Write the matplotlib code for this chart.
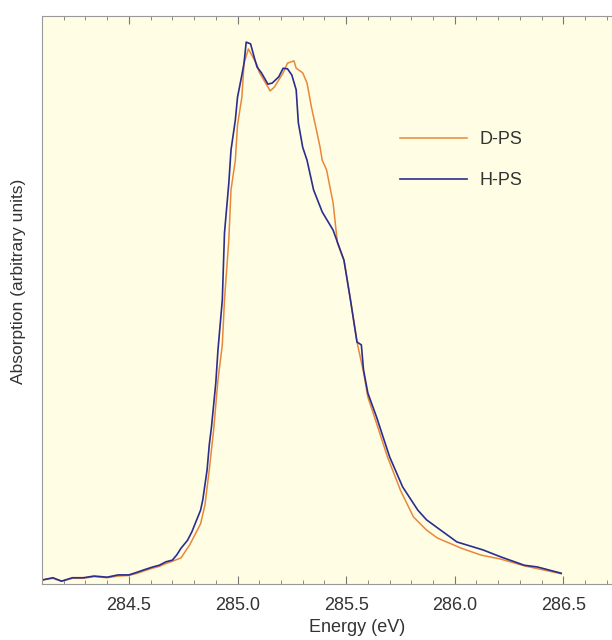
import numpy as np
import matplotlib
matplotlib.use("Agg")
import matplotlib.pyplot as plt
from matplotlib.ticker import MultipleLocator, FixedLocator

plt.rcParams['font.family'] = ['Liberation Sans', 'DejaVu Sans']

# H-PS spectrum (energy in eV, absorption in arbitrary units)
h_energy = [284.10, 284.15, 284.19, 284.24, 284.29, 284.34, 284.40, 284.45, 284.50, 284.54,
            284.57, 284.61, 284.64, 284.67, 284.70, 284.72, 284.74, 284.77, 284.79, 284.81,
            284.83, 284.84, 284.86, 284.87, 284.88, 284.90, 284.91, 284.93, 284.94, 284.96,
            284.97, 284.99, 285.00, 285.02, 285.03, 285.04, 285.06, 285.08, 285.09, 285.11,
            285.14, 285.16, 285.19, 285.21, 285.23, 285.25, 285.27, 285.28, 285.30, 285.32,
            285.35, 285.39, 285.44, 285.49, 285.52, 285.55, 285.57, 285.58, 285.60, 285.64,
            285.70, 285.76, 285.83, 285.87, 285.92, 286.01, 286.07, 286.13, 286.21, 286.32,
            286.38, 286.49]
h_abs = [0.007, 0.011, 0.005, 0.011, 0.011, 0.014, 0.012, 0.016, 0.016, 0.021,
         0.025, 0.030, 0.033, 0.039, 0.042, 0.051, 0.063, 0.077, 0.092, 0.111,
         0.130, 0.148, 0.201, 0.245, 0.276, 0.354, 0.412, 0.500, 0.618, 0.706,
         0.764, 0.817, 0.857, 0.896, 0.917, 0.954, 0.951, 0.923, 0.910, 0.900,
         0.880, 0.882, 0.893, 0.908, 0.907, 0.896, 0.870, 0.812, 0.769, 0.746,
         0.694, 0.655, 0.623, 0.570, 0.500, 0.426, 0.421, 0.377, 0.336, 0.294,
         0.224, 0.171, 0.130, 0.113, 0.099, 0.074, 0.067, 0.060, 0.048, 0.033,
         0.030, 0.019]

# D-PS spectrum
d_energy = [284.10, 284.15, 284.19, 284.24, 284.29, 284.34, 284.40, 284.45, 284.50, 284.54,
            284.57, 284.61, 284.64, 284.67, 284.70, 284.74, 284.78, 284.83, 284.85, 284.87,
            284.89, 284.91, 284.93, 284.94, 284.96, 284.97, 284.99, 285.00, 285.02, 285.03,
            285.05, 285.07, 285.09, 285.10, 285.14, 285.15, 285.17, 285.21, 285.23, 285.26,
            285.27, 285.30, 285.32, 285.34, 285.36, 285.38, 285.39, 285.41, 285.44, 285.46,
            285.49, 285.52, 285.55, 285.58, 285.60, 285.64, 285.69, 285.75, 285.81, 285.87,
            285.92, 286.03, 286.12, 286.21, 286.32, 286.49]
d_abs = [0.007, 0.010, 0.005, 0.010, 0.010, 0.013, 0.011, 0.014, 0.015, 0.019,
         0.023, 0.028, 0.031, 0.036, 0.040, 0.046, 0.069, 0.106, 0.139, 0.201,
         0.271, 0.359, 0.421, 0.500, 0.606, 0.694, 0.746, 0.808, 0.857, 0.917,
         0.942, 0.928, 0.914, 0.901, 0.875, 0.868, 0.875, 0.900, 0.917, 0.921,
         0.908, 0.900, 0.882, 0.840, 0.805, 0.769, 0.746, 0.729, 0.671, 0.600,
         0.570, 0.500, 0.426, 0.373, 0.329, 0.283, 0.224, 0.165, 0.118, 0.095,
         0.081, 0.063, 0.051, 0.044, 0.032, 0.018]

tick_values = [284.5, 285.0, 285.5, 286.0, 286.5]

orange = '#E8883A'
navy = '#2A2E8E'

fig = plt.figure(figsize=(6.12, 6.4), dpi=100)
ax = fig.add_axes([42 / 612, 1 - 584 / 640, 630 / 612, 568 / 640])
ax.set_facecolor('#FFFDE4')

ax.plot(d_energy, d_abs, color=orange, lw=1.1, label='D-PS')
ax.plot(h_energy, h_abs, color=navy, lw=1.2, label='H-PS')

ax.set_xlim(284.1, 287.0)
ax.set_ylim(0, 1)
ax.set_yticks([])
ax.xaxis.set_major_locator(FixedLocator(tick_values))
ax.xaxis.set_minor_locator(MultipleLocator(0.1))
ax.xaxis.set_major_formatter(matplotlib.ticker.FormatStrFormatter('%.1f'))
ax.tick_params(axis='x', which='both', direction='in', top=True, colors='#777777',
               labelcolor='#333333', labelsize=13, pad=9)
ax.tick_params(axis='x', which='major', length=6, width=0.8)
ax.tick_params(axis='x', which='minor', length=3, width=0.6)
for s in ax.spines.values():
    s.set_color('#999999')
    s.set_linewidth(0.8)

ax.set_xlabel('Energy (eV)', fontsize=13, color='#333333', labelpad=4)
ax.set_ylabel('Absorption (arbitrary units)', fontsize=12.5, color='#333333')
ax.yaxis.set_label_coords(-16 / 630, 0.533)

fig.legend(loc='upper left', bbox_to_anchor=(400 / 612, 1 - 131 / 640), frameon=False,
           fontsize=13, handlelength=3.7, handletextpad=0.7, labelspacing=1.35,
           borderpad=0, borderaxespad=0, labelcolor='#333333')

fig.savefig('out.png', dpi=100, facecolor='white')
